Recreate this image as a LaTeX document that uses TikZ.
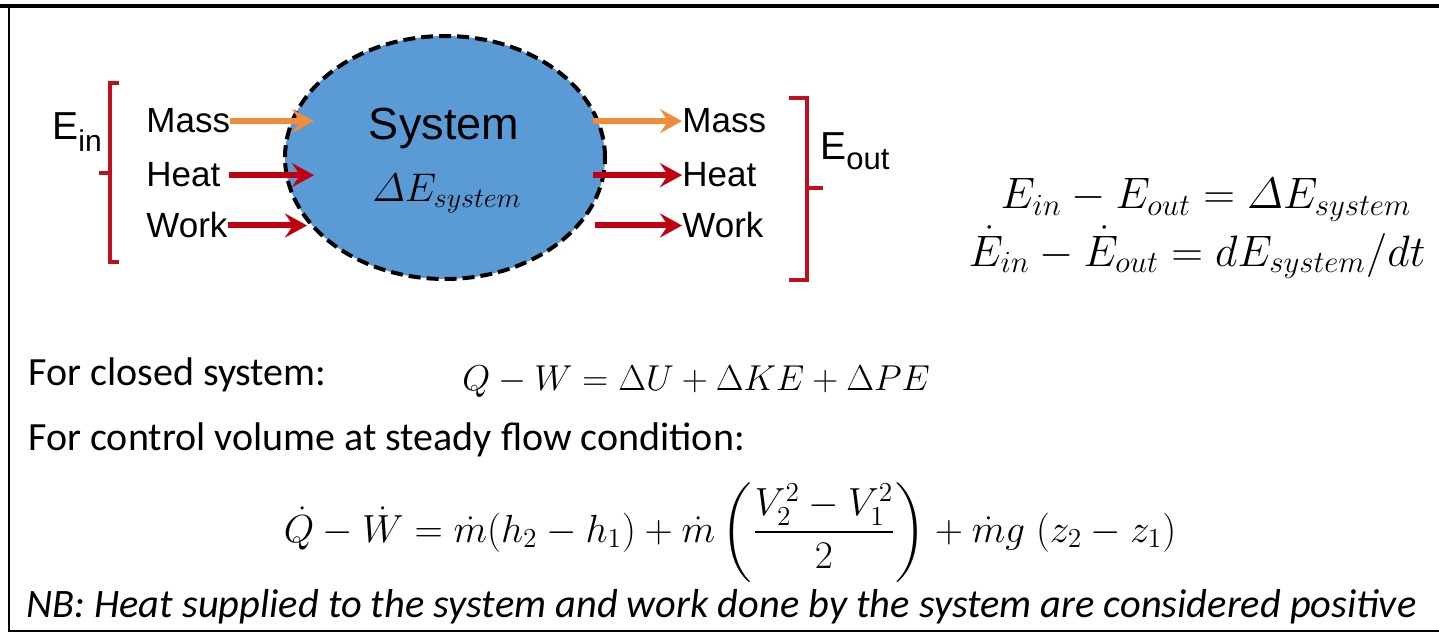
\RequirePackage{fix-cm}
\documentclass[tikz,border=0pt]{standalone}
\usepackage{amsmath}
\usepackage[no-math]{fontspec}
\setmainfont{Carlito}
\newfontfamily\arialf{Liberation Sans}
\usetikzlibrary{shapes.geometric,arrows.meta}
\definecolor{sysblue}{RGB}{91,155,213}
\definecolor{brkred}{RGB}{192,16,32}
\definecolor{arrred}{RGB}{192,0,16}
\definecolor{arrorange}{RGB}{240,140,60}
\begin{document}
\begin{tikzpicture}[x=0.5pt,y=-0.5pt,
  lbl/.style={font=\arialf\fontsize{17.5}{20}\selectfont, inner sep=0pt, anchor=base west},
  brk/.style={draw=brkred, line width=2pt},
  arrbase/.style={line width=3pt, -{Stealth[length=11pt,width=12pt,inset=4pt]}},
  arrO/.style={arrbase, draw=arrorange},
  arrR/.style={arrbase, draw=arrred},
  txt/.style={font=\fontsize{20}{24}\selectfont, inner sep=0pt, anchor=base west},
  mth/.style={inner sep=0pt}]
\useasboundingbox (0,0) rectangle (1439,636);
% frame
\draw[line width=2pt] (0,6) -- (1439,6);
\draw[line width=1.3pt] (9,6) -- (9,631) -- (1439,631);
% system ellipse
\node[ellipse, draw=black, fill=sysblue, line width=2pt, dash pattern=on 6pt off 3pt,
      minimum width=160pt, minimum height=121.5pt, inner sep=0pt] (sys) at (445,157.5) {};
\node[font=\arialf\fontsize{22.5}{26}\selectfont, anchor=base, inner sep=0pt] (systxt) at (444,140) {System};
\node[font=\fontsize{20}{24}\selectfont, anchor=base, inner sep=0pt] (dE) at (447,202) {$\varDelta E_{system}$};
% labels
\node[lbl] (mL) at (146,133) {Mass};
\node[lbl] (hL) at (146,187) {Heat};
\node[lbl] (wL) at (146,238) {Work};
\node[lbl] (mR) at (682,133) {Mass};
\node[lbl] (hR) at (682,187) {Heat};
\node[lbl] (wR) at (682,238) {Work};
% arrow end coordinates
\coordinate (tL1) at (314,119);
\coordinate (tL2) at (314,169);
\coordinate (tL3) at (307,223);
\coordinate (sR1) at (593,119);
\coordinate (sR2) at (593,169);
\coordinate (sR3) at (595,223);
\draw[arrO] (mL.east) -- (mL.east -| tL1);
\draw[arrR] ([xshift=4pt]hL.east) -- (hL.east -| tL2);
\draw[arrR] (wL.east) -- (wL.east -| tL3);
\draw[arrO] (sR1 |- mR.west) -- (mR.west);
\draw[arrR] (sR2 |- hR.west) -- (hR.west);
\draw[arrR] (sR3 |- wR.west) -- (wR.west);
% brackets
\draw[brk] (119,83) -- (110,83) -- (110,262) -- (119,262);
\draw[brk] (110,173) -- (99,173);
\draw[brk] (789,98) -- (807,98) -- (807,280) -- (789,280);
\draw[brk] (807,188) -- (823,188);
% E in / out
\node[font=\arialf\fontsize{19.5}{22}\selectfont, anchor=base west, inner sep=0pt] (Ein) at (52,140)
  {E\raisebox{-6pt}{\fontsize{15}{17}\selectfont in}};
\node[font=\arialf\fontsize{19.5}{22}\selectfont, anchor=base west, inner sep=0pt] (Eout) at (820,160)
  {E\raisebox{-5pt}{\fontsize{15.5}{17}\selectfont out}};
% right equations
\node[mth, font=\fontsize{22}{26}\selectfont, anchor=base] (eq1) at (1206,209)
  {$E_{in} - E_{out} = \varDelta E_{system}$};
\node[mth, font=\fontsize{22}{26}\selectfont, anchor=base] (eq2) at (1197,266)
  {$\dot{E}_{in} - \dot{E}_{out} = dE_{system}/dt$};
% bottom text
\node[txt] (t1) at (28,385) {For closed system:};
\node[mth, font=\fontsize{18}{22}\selectfont, anchor=base west] (eq3) at (462,390)
  {$Q - W = \Delta U + \Delta KE + \Delta PE$};
\node[txt] (t2) at (28,450) {For control volume at steady flow condition:};
\node[mth, font=\fontsize{19.6}{24}\selectfont, anchor=base] (eq4) at (730,542)
  {$\displaystyle \dot{Q} - \dot{W} = \dot{m}(h_2 - h_1) + \dot{m}\left(\frac{V_2^2 - V_1^2}{2}\right) + \dot{m}g\;(z_2 - z_1)$};
\node[txt, font=\itshape\fontsize{20.2}{24}\selectfont] (nb) at (26,617)
  {NB: Heat supplied to the system and work done by the system are considered positive};
\end{tikzpicture}
\end{document}
